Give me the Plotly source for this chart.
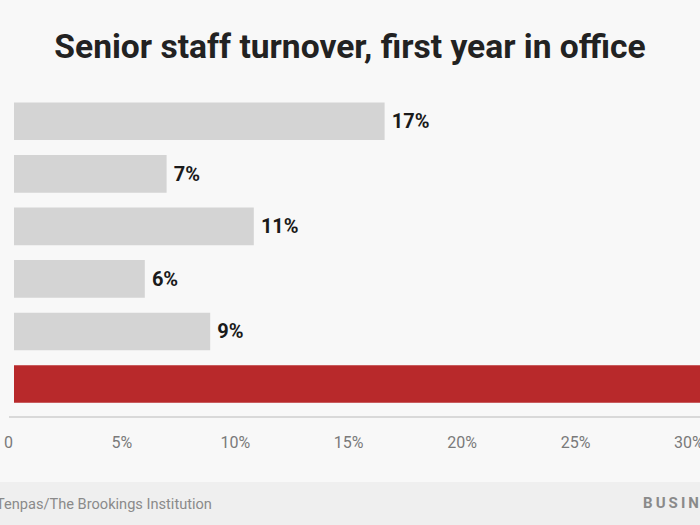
import plotly.graph_objects as go

# ---- data ----
presidents = ["Reagan", "G.H.W. Bush", "Clinton", "G.W. Bush", "Obama", "Trump"]
turnover = [17, 7, 11, 6, 9, 34]
labels = ["17%", "7%", "11%", "6%", "9%", "34%"]
bar_colors = ["#d4d4d4", "#d4d4d4", "#d4d4d4", "#d4d4d4", "#d4d4d4", "#b8292b"]
label_pos = ["outside", "outside", "outside", "outside", "outside", "none"]
tick_values = [0, 5, 10, 15, 20, 25, 30]
tick_labels = ["0", "5%", "10%", "15%", "20%", "25%", "30%"]

W, H = 700, 525
plot_top, plot_bottom = 94.7, 417
plot_h = plot_bottom - plot_top

fig = go.Figure()
# invisible trace carrying the tick-label axis
fig.add_trace(go.Scatter(x=[tick_values[0]], y=[presidents[0]], mode="markers",
                         marker=dict(opacity=0), xaxis="x", yaxis="y",
                         hoverinfo="skip", showlegend=False))
fig.add_trace(go.Bar(
    y=presidents, x=turnover, orientation="h",
    marker=dict(color=bar_colors, line=dict(width=0)),
    text=labels, textposition=label_pos, texttemplate="\u2009%{text}", cliponaxis=True,
    textfont=dict(family="Roboto", size=20, color="#1a1a1a", weight="bold"),
    hoverinfo="skip", xaxis="x2", yaxis="y",
))

fig.update_layout(
    width=W, height=H,
    margin=dict(l=0, r=0, t=plot_top, b=H - plot_bottom, autoexpand=False),
    paper_bgcolor="#f8f8f8", plot_bgcolor="#f8f8f8",
    showlegend=False, bargap=0.283,
    title=dict(text="<b>Senior staff turnover, first year in office</b>",
               x=0.5, xanchor="center", y=1 - 46 / H, yanchor="middle", yref="container",
               font=dict(family="Roboto", size=33.6, color="#222222")),
    xaxis=dict(domain=[0, 1], side="bottom", anchor="y", automargin=False,
               range=[-8.5 / 22.68, (700 - 8.5) / 22.68],
               tickvals=tick_values, ticktext=tick_labels, showgrid=False, zeroline=False,
               showline=False, ticks="", ticklabelstandoff=14, fixedrange=True,
               ticklabeloverflow="allow",
               tickfont=dict(family="Roboto", size=16, color="#7a7a7a")),
    xaxis2=dict(overlaying="x", anchor="y", range=[-14 / 21.8, 686 / 21.8], automargin=False,
                showgrid=False, zeroline=False, showticklabels=False, showline=False),
    yaxis=dict(range=[5.5 + (plot_h / 52.6 - 6), -0.5], showticklabels=False, automargin=False,
               showgrid=False, zeroline=False, showline=False),
    shapes=[
        dict(type="line", xref="paper", yref="paper", x0=9 / W, x1=1, y0=0, y1=0,
             line=dict(color="#d9d9d9", width=2)),
        dict(type="rect", xref="paper", yref="paper", x0=0, x1=1,
             y0=(plot_bottom - H) / plot_h - 0.01, y1=(plot_bottom - 482) / plot_h,
             fillcolor="#efefef", line=dict(width=0), layer="below"),
    ],
    annotations=[
        dict(text="Source: Kathryn Dunn Tenpas/The Brookings Institution",
             xref="paper", yref="paper", x=214 / W, xanchor="right",
             y=(plot_bottom - 504) / plot_h, yanchor="middle", showarrow=False,
             font=dict(family="Roboto", size=14.6, color="#8a8a8a")),
        dict(text="B\u2009U\u2009S\u2009I\u2009N\u2009E\u2009S\u2009S\u2003I\u2009N\u2009S\u2009I\u2009D\u2009E\u2009R",
             xref="paper", yref="paper", x=641 / W, xanchor="left",
             y=(plot_bottom - 503) / plot_h, yanchor="middle", showarrow=False,
             font=dict(family="Roboto", size=15, color="#8a8a8a", weight="bold")),
    ],
)

fig.write_html("out.html", config={"displayModeBar": False},
               post_script="document.body.style.margin='0';")
